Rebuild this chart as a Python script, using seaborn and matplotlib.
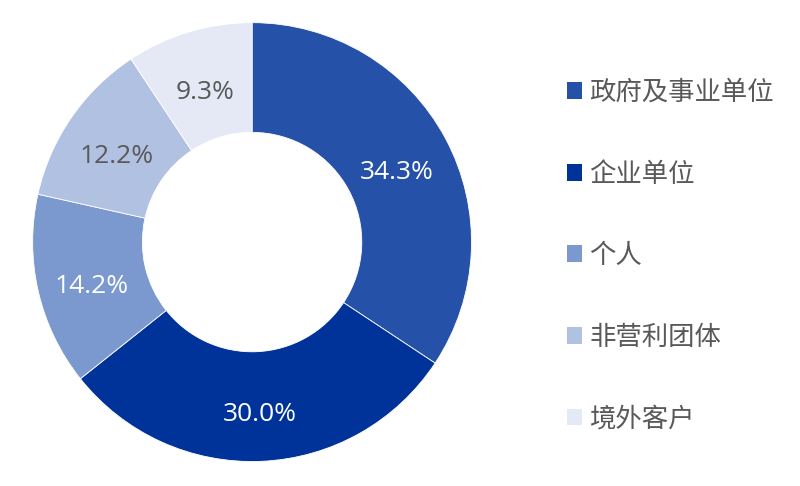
# -------------------------------------
# Import Libraries
# -------------------------------------
import matplotlib
matplotlib.use("Agg")
import matplotlib.pyplot as plt
from matplotlib.patches import Patch
from matplotlib.transforms import offset_copy
import seaborn as sns

sns.set_theme(style="white")
plt.rcParams["font.family"] = ["Noto Sans CJK SC", "DejaVu Sans"]


# -------------------------------------
# Data
# -------------------------------------
categories = ["政府及事业单位", "企业单位", "个人", "非营利团体", "境外客户"]
shares = [34.3, 30.0, 14.2, 12.2, 9.3]
colors = ["#2651A8", "#00339A", "#7B99CF", "#B0C1E2", "#E4E9F5"]
label_colors = ["white", "white", "white", "#595959", "#595959"]


# -------------------------------------
# Donut Chart
# -------------------------------------
fig = plt.figure(figsize=(8, 4.86), dpi=100)
ax = fig.add_axes([0.0406, 0.0504, 0.549, 0.903])

wedges, texts, autotexts = ax.pie(
    shares,
    colors=colors,
    startangle=90,
    counterclock=False,
    radius=1.0,
    autopct="%.1f%%",
    pctdistance=0.75,
    wedgeprops=dict(width=0.5, edgecolor="white", linewidth=0.6),
    textprops=dict(fontsize=19),
)

for t, c in zip(autotexts, label_colors):
    t.set_color(c)
    t.set_fontfamily(["Open Sans", "DejaVu Sans"])
    t.set_transform(offset_copy(t.get_transform(), fig=fig, y=-8, units="dots"))

ax.set_xlim(-1, 1)
ax.set_ylim(-1, 1)
ax.set_aspect("equal")
ax.axis("off")


# -------------------------------------
# Legend
# -------------------------------------
handles = [Patch(facecolor=c, edgecolor="none") for c in colors]
leg = fig.legend(
    handles,
    categories,
    loc="center left",
    bbox_to_anchor=(0.695, 0.474),
    borderaxespad=0,
    frameon=False,
    fontsize=19,
    handlelength=0.6,
    handleheight=0.6,
    handletextpad=0.27,
    labelspacing=2.07,
)
for t in leg.get_texts():
    t.set_color("#595959")

fig.savefig("out.png", dpi=100, facecolor="white")
